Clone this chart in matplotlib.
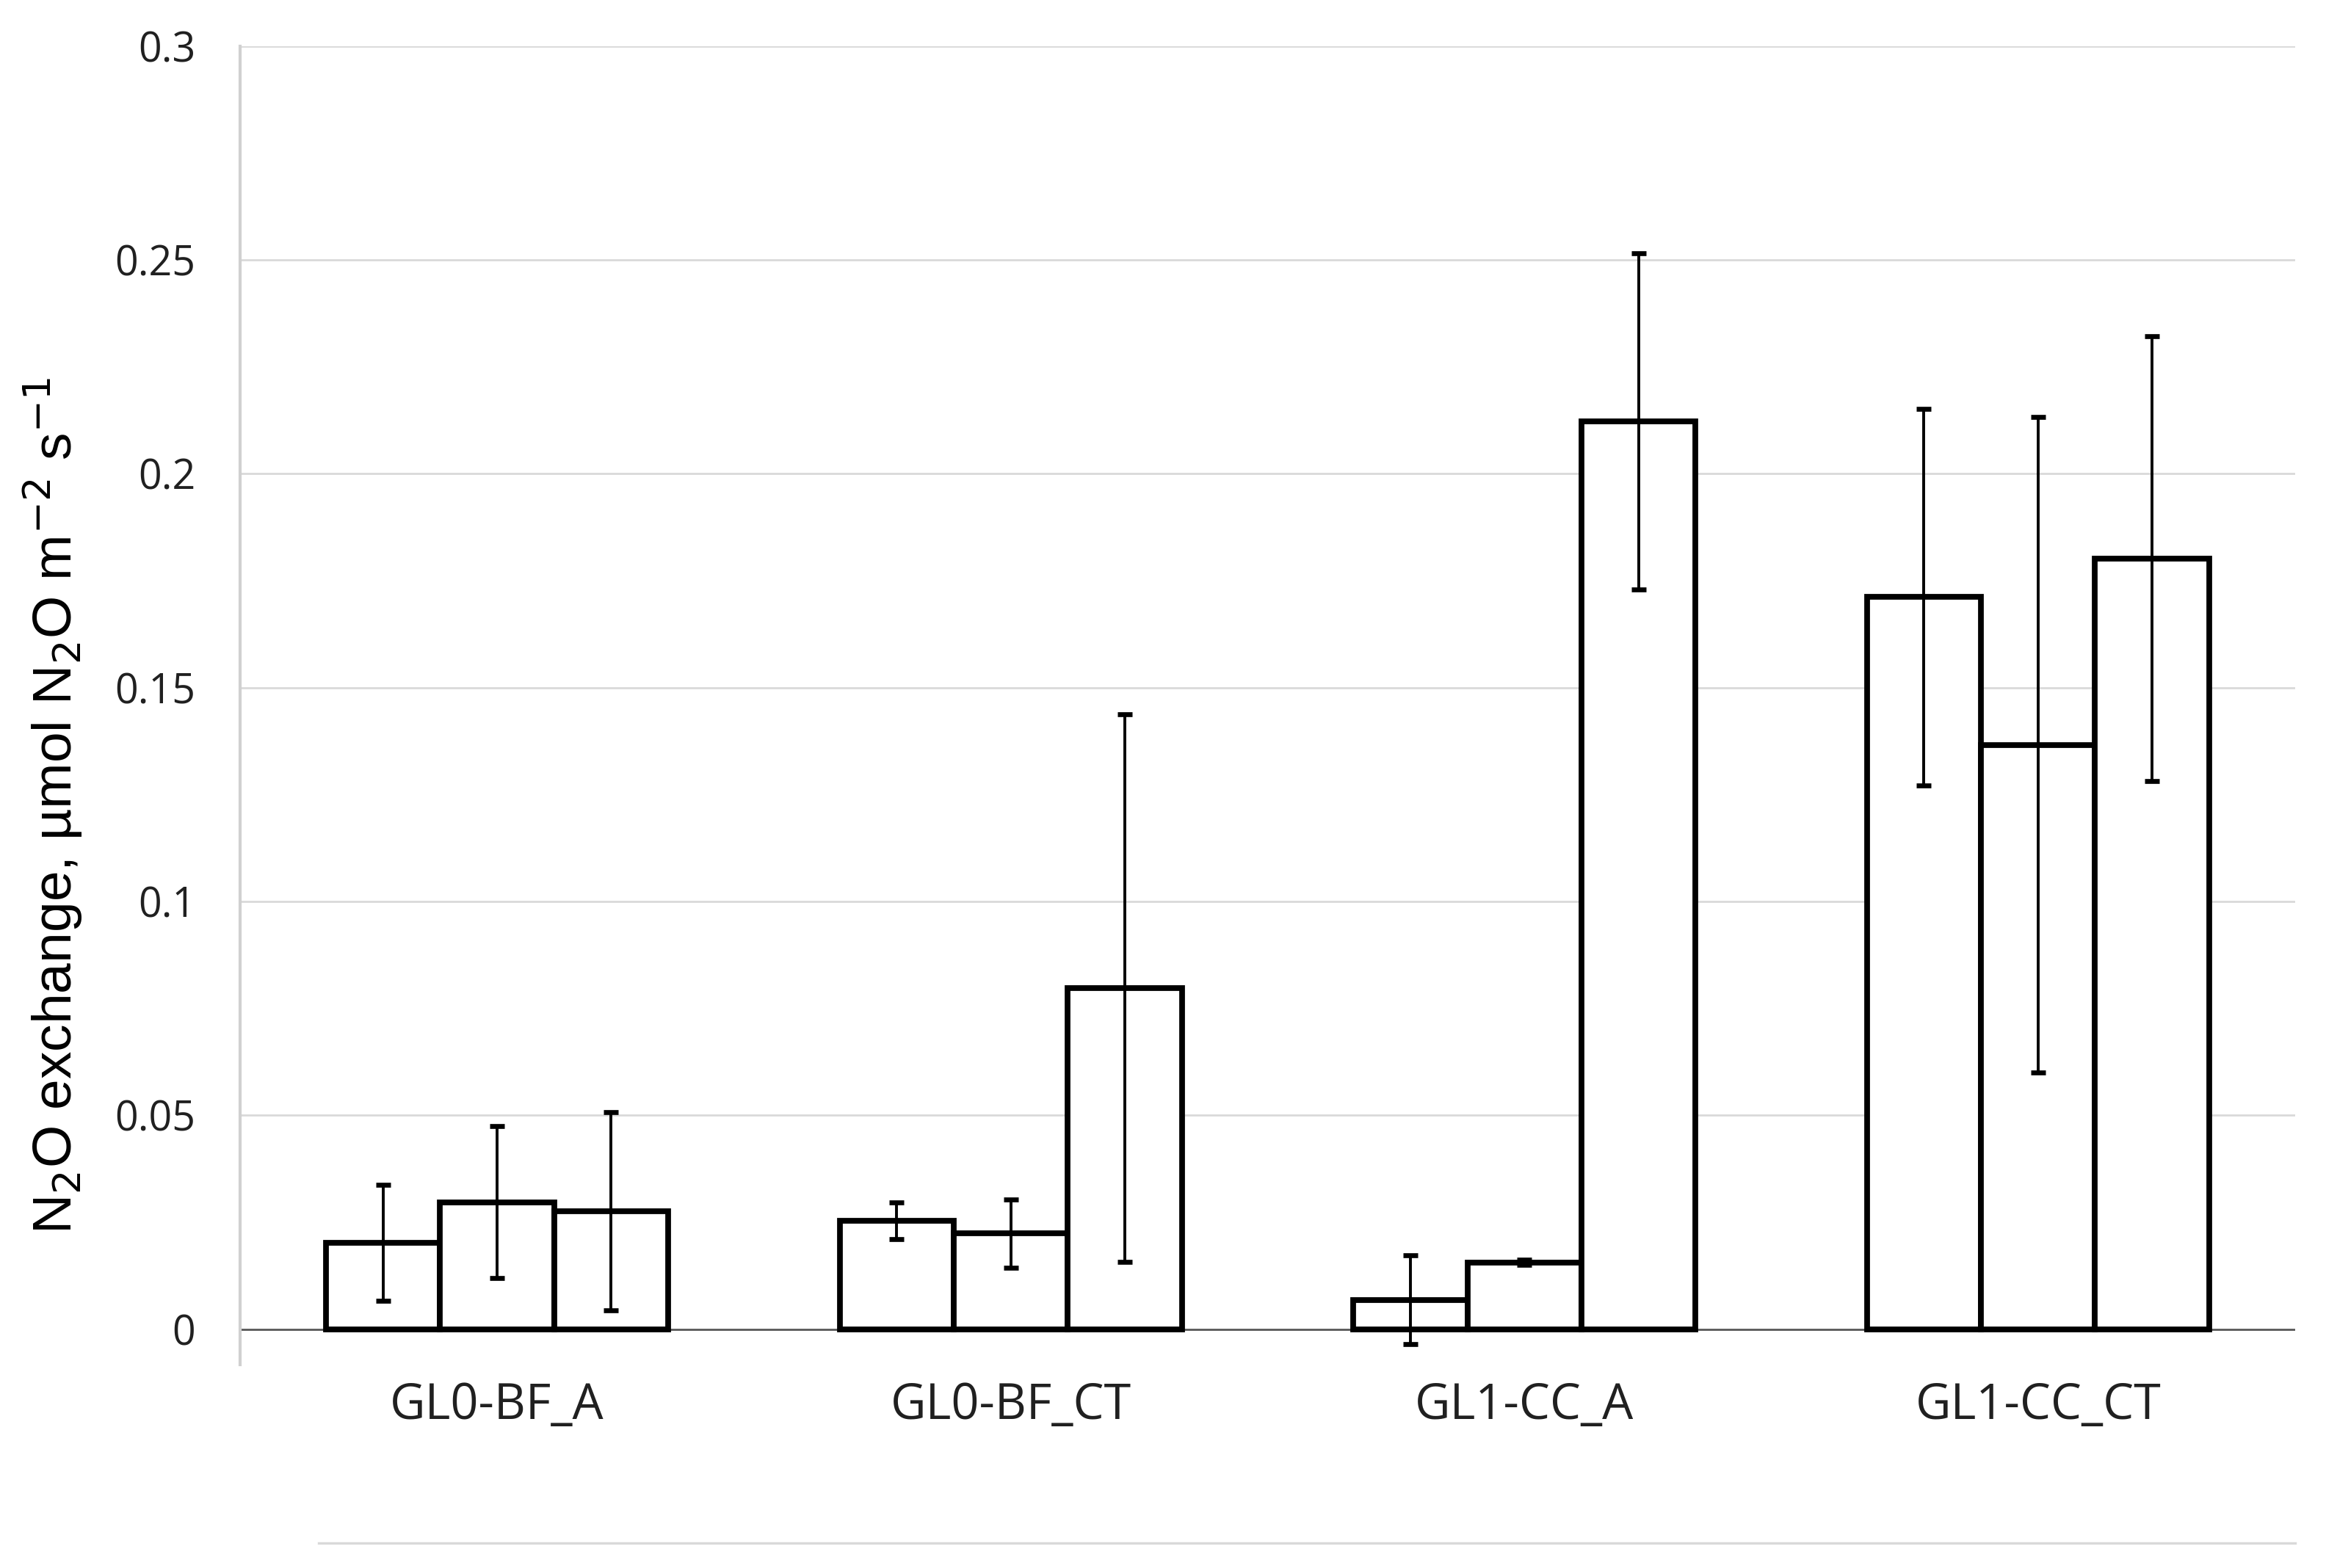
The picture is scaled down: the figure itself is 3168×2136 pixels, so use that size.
import numpy as np
import matplotlib
matplotlib.use("Agg")
import matplotlib.pyplot as plt
from matplotlib.lines import Line2D

categories = ["GL0-BF_A", "GL0-BF_CT", "GL1-CC_A", "GL1-CC_CT"]
bar1 = [0.0202, 0.0254, 0.0069, 0.1712]
bar1_err = [0.0135, 0.0043, 0.0104, 0.0440]
bar2 = [0.0297, 0.0224, 0.0156, 0.1366]
bar2_err = [0.0178, 0.0080, 0.0006, 0.0766]
bar3 = [0.0276, 0.0798, 0.2122, 0.1802]
bar3_err = [0.0232, 0.0640, 0.0393, 0.0520]
yticks = [0, 0.05, 0.1, 0.15, 0.2, 0.25, 0.3]
ytick_labels = ["0", "0.05", "0.1", "0.15", "0.2", "0.25", "0.3"]

W, H = 1568, 1057

fig = plt.figure(figsize=(15.84, 10.68), dpi=200)
ax = fig.add_axes([162 / W, 1 - 920 / H, (1547 - 162) / W, (920 - 31) / H])

x = np.arange(len(categories))
width = 0.222
series = [(bar1, bar1_err), (bar2, bar2_err), (bar3, bar3_err)]
for i, (vals, errs) in enumerate(series):
    pos = x + (i - 1) * width
    ax.bar(pos, vals, width, color="white", edgecolor="black", linewidth=2.8, zorder=3)
    ax.errorbar(pos, vals, yerr=errs, fmt="none", ecolor="black", elinewidth=1.4,
                capsize=3.6, capthick=2.4, zorder=4)

ax.set_xlim(-0.5, 3.5)
ax.set_ylim(-0.0083, 0.3)
ax.axhline(0, color="#595959", linewidth=1.0, zorder=2)
ax.set_yticks(yticks)
ax.set_yticklabels(ytick_labels)
ax.set_xticks(x)
ax.set_xticklabels(categories)
ax.yaxis.grid(True, color="#d9d9d9", linewidth=1.0, zorder=0)
ax.set_axisbelow(True)

for side in ["top", "right", "bottom"]:
    ax.spines[side].set_visible(False)
ax.spines["left"].set_color("#d0d0d0")
ax.spines["left"].set_linewidth(1.5)

ax.tick_params(axis="both", length=0, labelcolor="#202020")
ax.tick_params(axis="y", pad=22, labelsize=20)
ax.tick_params(axis="x", pad=8, labelsize=24)
for lab in ax.get_xticklabels() + ax.get_yticklabels():
    lab.set_family(["Open Sans", "DejaVu Sans"])

ax.set_ylabel(r"N$_2$O exchange, µmol N$_2$O m$^{-2}$ s$^{-1}$", fontsize=27,
              family=["Liberation Sans", "DejaVu Sans"])
ax.yaxis.set_label_coords(-0.076, 0.424)

fig.add_artist(Line2D([215 / W, 1547 / W], [1 - 1040 / H, 1 - 1040 / H],
                      transform=fig.transFigure, color="#d9d9d9", linewidth=1.2))

fig.savefig("out.png", dpi=200, facecolor="white")
